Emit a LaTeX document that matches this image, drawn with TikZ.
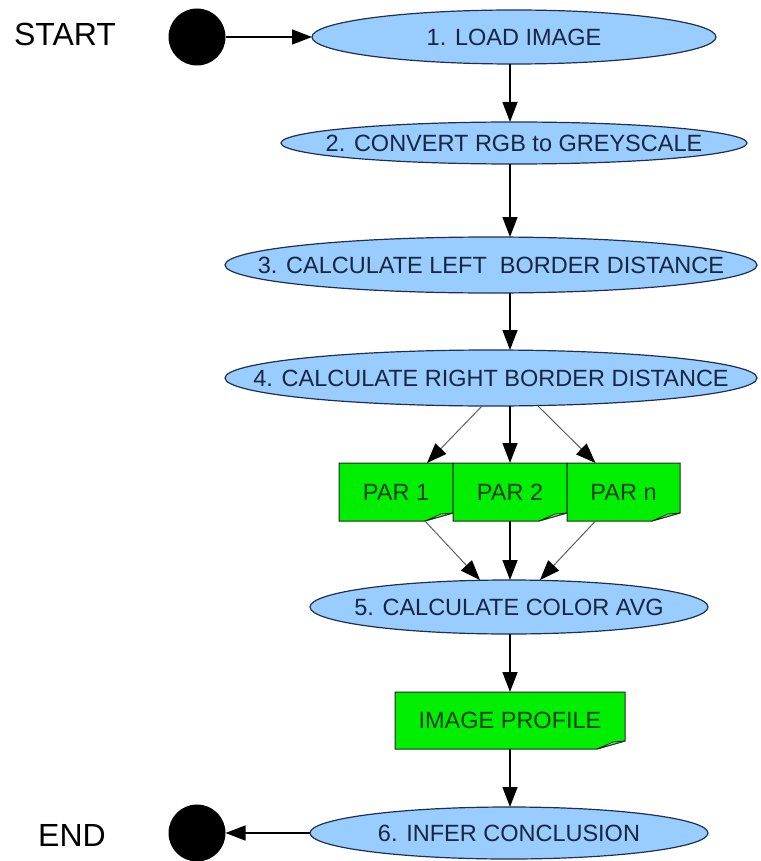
\documentclass[tikz,border=0pt]{standalone}
\usepackage{fontspec}
\setmainfont{Liberation Sans}
\usetikzlibrary{shapes.geometric}
\usetikzlibrary{arrows.meta}
\usetikzlibrary{positioning}
\definecolor{ovalblue}{RGB}{153,204,255}
\definecolor{ovaledge}{RGB}{30,48,78}
\definecolor{ovaltxt}{RGB}{24,38,62}
\definecolor{boxgreen}{RGB}{0,238,0}
\definecolor{foldgreen}{RGB}{90,245,90}
\definecolor{boxtxt}{RGB}{22,62,22}
\definecolor{thingray}{RGB}{95,95,95}
\pgfdeclarelayer{back}
\pgfsetlayers{back,main}
\tikzset{
  oval/.style={ellipse,draw=ovaledge,line width=1.2pt,fill=ovalblue,inner sep=0pt,outer sep=0pt},
  ovaltext/.style={text=ovaltxt,font=\fontsize{23.5}{26}\selectfont},
  parbox/.style={rectangle,inner sep=0pt,outer sep=0pt,text=boxtxt,font=\fontsize{23.5}{26}\selectfont},
  dot/.style={circle,fill=black,minimum size=57pt,inner sep=0pt,outer sep=0pt},
  arr/.style={-{Triangle[length=20pt,width=15pt]},line width=1.4pt,black},
  thinarr/.style={-{Triangle[length=20pt,width=15pt,color=black]},line width=1pt,thingray}
}
\begin{document}
\begin{tikzpicture}[x=1pt,y=-1pt]
    \useasboundingbox (0,0) rectangle (760,861);
    \coordinate (axis) at (510,0);
    % Start / End
    \node[font=\fontsize{32}{34}\selectfont] (starttxt) at (65,34) {START};
    \node[dot] (startdot) at (197,37) {};
    \node[font=\fontsize{32}{34}\selectfont] (endtxt) at (72,835) {END};
    \node[dot] (enddot) at (197,833) {};
    % Steps
    \node[oval,minimum width=404pt,minimum height=54pt,label={[ovaltext]center:1. LOAD IMAGE}] (e1) at (514,37) {};
    \node[oval,minimum width=466pt,minimum height=42pt,label={[ovaltext]center:2. CONVERT RGB to GREYSCALE}] (e2) at (514,143) {};
    \node[oval,minimum width=532pt,minimum height=56pt,label={[ovaltext]center:3. CALCULATE LEFT\ \ BORDER DISTANCE}] (e3) at (491,265) {};
    \node[oval,minimum width=532pt,minimum height=56pt,label={[ovaltext]center:4. CALCULATE RIGHT BORDER DISTANCE}] (e4) at (491,378) {};
    \node[oval,minimum width=398pt,minimum height=54pt,label={[ovaltext]center:5. CALCULATE COLOR AVG}] (e5) at (509,607) {};
    \node[oval,minimum width=398pt,minimum height=52pt,label={[ovaltext]center:6. INFER CONCLUSION}] (e6) at (509,833) {};
    % Parallel parts
    \node[parbox,minimum width=114pt,minimum height=58pt] (p1) at (396,492) {PAR 1};
    \node[parbox,minimum width=114pt,minimum height=58pt] (p2) at (510,492) {PAR 2};
    \node[parbox,minimum width=113pt,minimum height=58pt] (pn) at (623.5,492) {PAR n};
    \node[parbox,minimum width=230pt,minimum height=57pt] (img) at (510,720.5) {IMAGE PROFILE};
    \begin{pgfonlayer}{back}
    \foreach \b in {p1,p2,pn,img} {
      \filldraw[fill=boxgreen,draw=black!85,line width=1pt] (\b.north west) -- (\b.north east) -- ([yshift=8pt]\b.south east) -- ([xshift=-28pt]\b.south east) -- (\b.south west) -- cycle;
      \filldraw[fill=foldgreen,draw=black!85,line width=0.8pt] ([xshift=-28pt]\b.south east) -- ([yshift=8pt]\b.south east) -- ([xshift=-12pt,yshift=7pt]\b.south east) -- cycle;
    }
    \end{pgfonlayer}
    % Connectors
    \draw[arr] (startdot) -- (e1);
    \draw[arr] (e1.south -| axis) -- (e2.north -| axis);
    \draw[arr] (e2.south -| axis) -- (e3.north -| axis);
    \draw[arr] (e3.south -| axis) -- (e4.north -| axis);
    \draw[arr] (e4.south -| axis) -- (p2.north);
    \draw[thinarr] ([xshift=-28pt]e4.south -| axis) -- ([xshift=31pt]p1.north);
    \draw[thinarr] ([xshift=28pt]e4.south -| axis) -- ([xshift=-28pt]pn.north);
    \draw[thinarr] ([xshift=29pt]p1.south) -- ([xshift=-29pt]e5.north);
    \draw[arr] (p2.south) -- (e5.north -| axis);
    \draw[thinarr] ([xshift=-28pt]pn.south) -- ([xshift=31pt]e5.north);
    \draw[arr] (e5.south -| axis) -- (img.north);
    \draw[arr] (img.south) -- (e6.north -| axis);
    \draw[arr] (e6) -- (enddot);
\end{tikzpicture}
\end{document}
